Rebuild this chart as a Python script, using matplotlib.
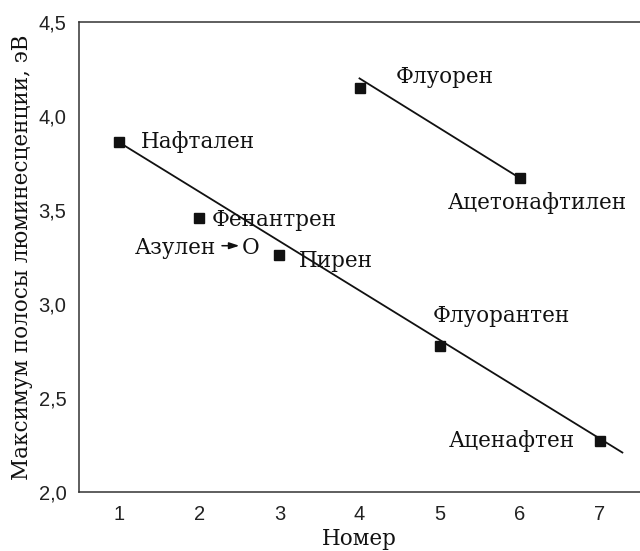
import numpy as np
import matplotlib
matplotlib.use("Agg")
import matplotlib.pyplot as plt

# measured points (номер, максимум полосы люминесценции, эВ)
names = ["Нафтален", "Фенантрен", "Пирен", "Флуорантен", "Аценафтен",
         "Флуорен", "Ацетонафтилен"]
nums = [1, 2, 3, 5, 7, 4, 6]
energy = [3.86, 3.46, 3.26, 2.775, 2.27, 4.15, 3.67]

# label offsets in points (dx, dy) and alignment
lab_off = [(16, 0), (9, -2), (14, -4), (-5, 22), (-18, 0), (26, 8), (-52, -18)]
lab_ha = ["left", "left", "left", "left", "right", "left", "left"]

# trend lines
line1_x = [1.0, 7.28]
line1_y = [3.86, 2.21]
line2_x = [4.0, 6.0]
line2_y = [4.20, 3.67]

# azulene (open marker) and its arrow
azulen_x = 2.64
azulen_y = 3.30
arrow_x = [2.284, 2.50]

serif = ["DejaVu Serif"]
narrow = ["Liberation Sans Narrow", "Liberation Sans", "DejaVu Sans"]
fs = 15.5

fig = plt.figure(figsize=(6.4, 5.51), dpi=100)
ax = fig.add_axes([79 / 640, 1 - 492 / 551, 1 - 79 / 640, (492 - 22) / 551])

ax.plot(line1_x, line1_y, color="#111111", lw=1.3, zorder=2)
ax.plot(line2_x, line2_y, color="#111111", lw=1.3, zorder=2)
ax.plot(nums, energy, "s", color="#111111", ms=7.2, zorder=3)

for n, e, name, off, ha in zip(nums, energy, names, lab_off, lab_ha):
    ax.annotate(name, (n, e), xytext=off, textcoords="offset points",
                ha=ha, va="center", fontsize=fs, family=serif, color="#111111")

ax.text(azulen_x, azulen_y, "O", ha="center", va="center", fontsize=fs,
        family=serif, color="#111111")
ax.annotate("", xy=(arrow_x[1], azulen_y + 0.01), xytext=(arrow_x[0], azulen_y + 0.01),
            arrowprops=dict(arrowstyle="-|>,head_length=0.6,head_width=0.2",
                            color="#111111", lw=1.1, shrinkA=0, shrinkB=0))
ax.text(arrow_x[0] - 0.08, azulen_y, "Азулен", ha="right", va="center",
        fontsize=fs, family=serif, color="#111111")

ax.set_xlim(0.5, 7.5)
ax.set_ylim(2.0, 4.5)
ax.set_xticks(range(1, 8))
ax.set_yticks([2.0, 2.5, 3.0, 3.5, 4.0, 4.5])
ax.set_yticklabels(["2,0", "2,5", "3,0", "3,5", "4,0", "4,5"])
ax.tick_params(length=0, pad=9, labelsize=14.5, colors="#222222")
for lab in ax.get_xticklabels() + ax.get_yticklabels():
    lab.set_family(narrow)

ax.spines["right"].set_visible(False)
for s in ["left", "top", "bottom"]:
    ax.spines[s].set_color("#333333")
    ax.spines[s].set_linewidth(1.1)

ax.set_xlabel("Номер", fontsize=fs, family=serif, color="#111111", labelpad=3)
ax.set_ylabel("Максимум полосы люминесценции, эВ", fontsize=fs, family=serif,
              color="#111111", labelpad=4)

fig.savefig("out.png", dpi=100)
